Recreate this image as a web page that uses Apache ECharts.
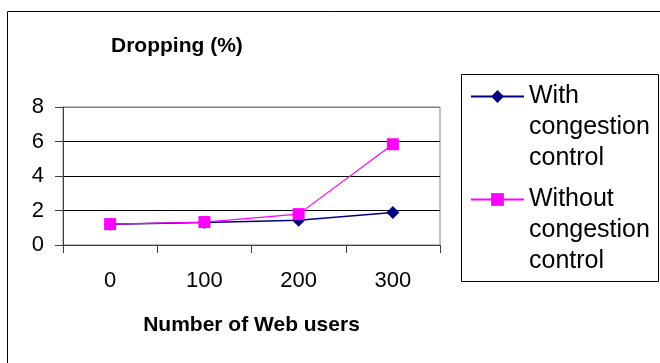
<!DOCTYPE html>
<html>
<head>
<meta charset="utf-8">
<script src="https://cdn.jsdelivr.net/npm/echarts@6/dist/echarts.min.js"></script>
<style>html,body{margin:0;padding:0;background:#fff;}#c{width:660px;height:363px;}</style>
</head>
<body>
<div id="c"></div>
<script>
const categories = ['0', '100', '200', '300'];
const withCongestion = [1.21, 1.31, 1.44, 1.89];
const withoutCongestion = [1.21, 1.33, 1.79, 5.84];
const seriesNames = ['With\ncongestion\ncontrol', 'Without\ncongestion\ncontrol'];
const yTicks = { min: 0, max: 8, interval: 2 };

const FONT = "'Liberation Sans', Arial, sans-serif";
const chart = echarts.init(document.getElementById('c'), null, { renderer: 'canvas' });
chart.setOption({
  animation: false,
  backgroundColor: '#fff',
  textStyle: { fontFamily: FONT },
  title: {
    text: 'Dropping (%)',
    left: 111, top: 36, padding: 0,
    textStyle: { fontSize: 21, fontWeight: 'bold', color: '#000', fontFamily: FONT }
  },
  grid: {
    left: 63, right: 220, top: 107, bottom: 118,
    show: true, borderColor: '#808080', borderWidth: 1, backgroundColor: 'transparent'
  },
  xAxis: {
    type: 'category',
    data: categories,
    boundaryGap: true,
    name: 'Number of Web users',
    nameLocation: 'middle',
    nameGap: 70,
    nameTextStyle: { fontSize: 21, fontWeight: 'bold', color: '#000', fontFamily: FONT },
    axisLine: { lineStyle: { color: '#404040', width: 1 } },
    axisTick: { show: true, length: 8, alignWithLabel: false, lineStyle: { color: '#404040' } },
    axisLabel: { fontSize: 22, color: '#000', margin: 25, fontFamily: FONT },
    splitLine: { show: false }
  },
  yAxis: {
    type: 'value',
    min: yTicks.min, max: yTicks.max, interval: yTicks.interval,
    axisLine: { show: true, lineStyle: { color: '#404040', width: 1 } },
    axisTick: { show: true, length: 8, lineStyle: { color: '#404040' } },
    axisLabel: { fontSize: 22, color: '#000', margin: 19, fontFamily: FONT },
    splitLine: { show: true, lineStyle: { color: ['#808080', '#000', '#000', '#000', '#808080'], width: 1 } }
  },
  legend: {
    orient: 'vertical',
    left: 470, top: 19,
    padding: 0,
    itemWidth: 53, itemHeight: 16,
    itemGap: -52,
    data: seriesNames,
    formatter: function (name) { return '\n\n' + name; },
    textStyle: { fontSize: 25, lineHeight: 31, color: '#000', fontFamily: FONT }
  },
  graphic: [
    { type: 'polyline', shape: { points: [[7.5, 363], [7.5, 11.5], [660, 11.5]] }, style: { stroke: '#000', lineWidth: 1, fill: null }, silent: true },
    { type: 'rect', shape: { x: 461.5, y: 74.5, width: 197, height: 207 }, style: { stroke: '#000', lineWidth: 1, fill: null }, silent: true, z: -1 }
  ],
  series: [
    {
      name: seriesNames[0], type: 'line', data: withCongestion,
      symbol: 'diamond', symbolSize: 13,
      lineStyle: { color: '#000080', width: 1.5 },
      itemStyle: { color: '#000080' }
    },
    {
      name: seriesNames[1], type: 'line', data: withoutCongestion,
      symbol: 'rect', symbolSize: 12,
      lineStyle: { color: '#FF00FF', width: 1.2 },
      itemStyle: { color: '#FF00FF' }
    }
  ]
});
</script>
</body>
</html>
